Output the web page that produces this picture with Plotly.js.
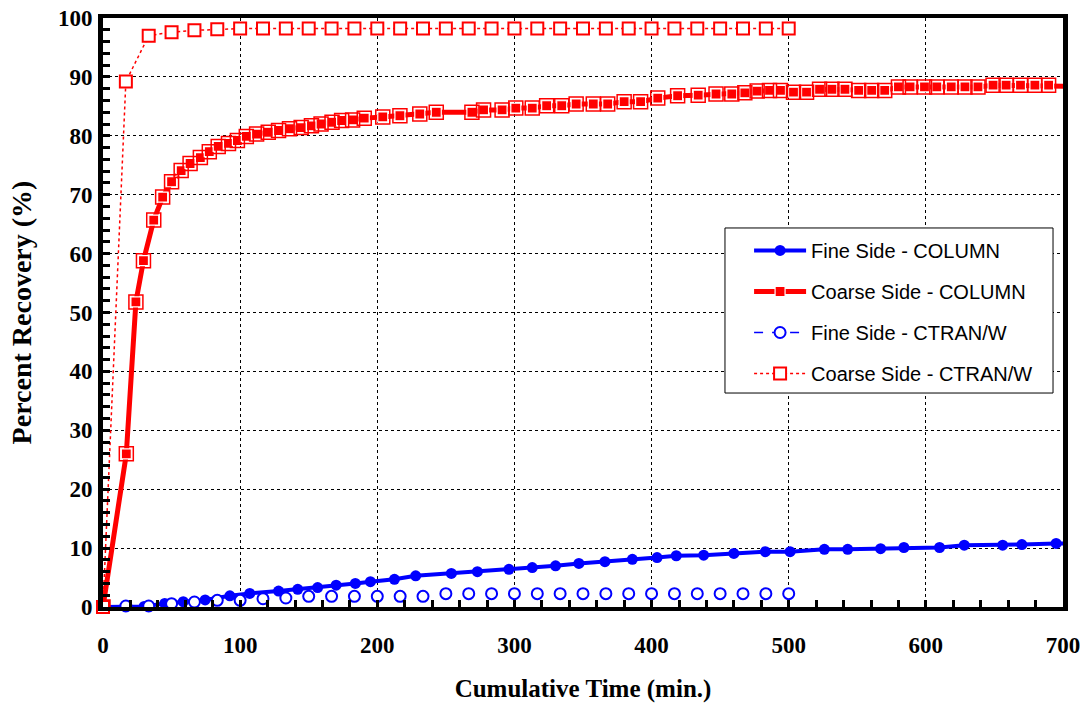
<!DOCTYPE html>
<html>
<head>
<meta charset="utf-8">
<script src="https://cdn.plot.ly/plotly-3.0.1.min.js"></script>
<style>html,body{margin:0;padding:0;background:#fff;}#chart{width:1085px;height:706px;}</style>
</head>
<body>
<div id="chart"></div>
<script>
// ---- data ----
const fineColumnX = [0, 30, 45, 58.5, 74.5, 92.5, 107, 128, 142, 156.5, 170, 184, 195, 212.5, 228, 254, 273, 296, 313, 330, 347, 366, 386, 404, 418, 438, 460, 483, 501, 526, 543, 567, 584, 610, 628, 656, 670, 695, 710];
const fineColumnY = [0, 0.1, 0.6, 0.9, 1.2, 1.9, 2.3, 2.7, 3.0, 3.3, 3.7, 4.0, 4.3, 4.7, 5.3, 5.7, 6.0, 6.4, 6.7, 7.0, 7.4, 7.7, 8.1, 8.4, 8.7, 8.8, 9.1, 9.4, 9.4, 9.8, 9.8, 9.9, 10.1, 10.1, 10.5, 10.5, 10.6, 10.8, 10.8];

const coarseColumnX = [0, 17, 24, 29.5, 37, 43.5, 50, 57, 63.5, 71, 77.5, 84, 91.5, 98, 104.5, 112, 120.5, 128, 136, 144.5, 152, 159, 167, 174, 182, 190.5, 204, 216.5, 231, 243, 269, 277.5, 291, 301, 313, 323.5, 334.5, 345, 357.5, 368, 380, 392, 404.5, 419, 434, 447, 458.5, 468, 477, 486, 494, 503.5, 513, 522.5, 531.5, 541, 551, 560.5, 570, 580, 588.5, 599, 608, 618.5, 628.5, 638, 649, 658.5, 669, 679.5, 689.5, 710];
const coarseColumnY = [0, 26, 51.8, 58.8, 65.7, 69.6, 72.2, 74.1, 75.3, 76.3, 77.3, 78.2, 78.7, 79.2, 79.9, 80.3, 80.6, 80.9, 81.2, 81.4, 81.7, 82.0, 82.3, 82.6, 82.7, 83.0, 83.2, 83.4, 83.7, 84.0, 84.0, 84.4, 84.4, 84.7, 84.7, 85.1, 85.1, 85.4, 85.4, 85.4, 85.8, 85.8, 86.4, 86.8, 86.9, 87.1, 87.1, 87.3, 87.6, 87.7, 87.7, 87.4, 87.4, 87.9, 87.9, 87.9, 87.7, 87.7, 87.7, 88.3, 88.3, 88.3, 88.3, 88.3, 88.3, 88.3, 88.6, 88.6, 88.6, 88.6, 88.6, 88.4];

const ctranX = [0, 16.67, 33.33, 50, 66.67, 83.33, 100, 116.67, 133.33, 150, 166.67, 183.33, 200, 216.67, 233.33, 250, 266.67, 283.33, 300, 316.67, 333.33, 350, 366.67, 383.33, 400, 416.67, 433.33, 450, 466.67, 483.33, 500];
const fineCtranY = [0, 0.17, 0.17, 0.57, 0.85, 1.13, 1.13, 1.41, 1.53, 1.81, 1.81, 1.81, 1.81, 1.81, 1.81, 2.26, 2.26, 2.26, 2.26, 2.26, 2.26, 2.26, 2.26, 2.26, 2.26, 2.26, 2.26, 2.26, 2.26, 2.26, 2.26];
const coarseCtranY = [0, 89.2, 97.0, 97.6, 97.9, 98.1, 98.2, 98.2, 98.2, 98.2, 98.2, 98.2, 98.2, 98.2, 98.2, 98.2, 98.2, 98.2, 98.2, 98.2, 98.2, 98.2, 98.2, 98.2, 98.2, 98.2, 98.2, 98.2, 98.2, 98.2, 98.2];

const seriesNames = ["Fine Side - COLUMN", "Coarse Side - COLUMN", "Fine Side - CTRAN/W", "Coarse Side - CTRAN/W"];
const xTicks = [0, 100, 200, 300, 400, 500, 600, 700];
const yTicks = [0, 10, 20, 30, 40, 50, 60, 70, 80, 90, 100];

const RED = "#FF0000", BLUE = "#0000FF";

const traces = [
  {x: fineColumnX, y: fineColumnY, name: seriesNames[0], legendgroup: "g1",
   mode: "lines+markers", line: {color: BLUE, width: 4},
   marker: {symbol: "circle", size: 11, color: BLUE}, cliponaxis: true},
  {x: coarseColumnX, y: coarseColumnY, name: seriesNames[1], legendgroup: "g2",
   mode: "lines+markers", line: {color: RED, width: 5},
   marker: {symbol: "square", size: 10, color: RED, line: {color: "#FFFFFF", width: 1.2}}, cliponaxis: true},
  {x: coarseColumnX, y: coarseColumnY, name: seriesNames[1], legendgroup: "g2", showlegend: false,
   mode: "markers", marker: {symbol: "square-open", size: 14, color: RED, line: {color: RED, width: 1.5}}, cliponaxis: true},
  {x: ctranX, y: fineCtranY, name: seriesNames[2], legendgroup: "g3", showlegend: false,
   mode: "markers", marker: {symbol: "circle", size: 11, color: "#FFFFFF", line: {color: BLUE, width: 2}}, cliponaxis: false},
  {x: [null], y: [null], name: seriesNames[2], legendgroup: "g3",
   mode: "lines+markers", line: {color: BLUE, width: 1.5, dash: "dash"},
   marker: {symbol: "circle", size: 11, color: "#FFFFFF", line: {color: BLUE, width: 2}}},
  {x: ctranX, y: coarseCtranY, name: seriesNames[3], legendgroup: "g4",
   mode: "lines+markers", line: {color: RED, width: 1.5, dash: "dot"},
   marker: {symbol: "square", size: 12, color: "#FFFFFF", line: {color: RED, width: 2}}, cliponaxis: false}
];

const tickFont = {family: "Liberation Serif, Times New Roman, serif", size: 23, color: "#000", weight: "bold"};
const xTitleFont = {family: "Liberation Serif, Times New Roman, serif", size: 25, color: "#000", weight: "bold"};
const yTitleFont = {family: "Liberation Serif, Times New Roman, serif", size: 28, color: "#000", weight: "bold"};

const layout = {
  width: 1085, height: 706,
  margin: {l: 103, r: 22, t: 18, b: 99},
  paper_bgcolor: "#FFFFFF", plot_bgcolor: "#FFFFFF",
  showlegend: true,
  legend: {
    x: 0.673, y: 0.6384, xanchor: "left", yanchor: "top",
    bgcolor: "rgba(0,0,0,0)", borderwidth: 0,
    font: {family: "Liberation Sans, Arial, sans-serif", size: 20, color: "#000"},
    traceorder: "grouped", tracegroupgap: 12, itemwidth: 52, itemsizing: "trace"
  },
  shapes: [
    {type: "rect", xref: "paper", yref: "paper", x0: 0.6479, x1: 0.9896, y0: 0.3633, y1: 0.6435,
     line: {color: "#000", width: 1}, fillcolor: "#FFFFFF", layer: "above"}
  ],
  xaxis: {
    range: [0, 700], tickvals: xTicks, ticktext: xTicks.map(String),
    showline: true, linecolor: "#000", linewidth: 4, mirror: true,
    showgrid: true, gridcolor: "#000", gridwidth: 1, griddash: "dot",
    zeroline: false, ticks: "inside", ticklen: 7, tickwidth: 3, tickcolor: "#000",
    minor: {dtick: 20, ticks: "inside", ticklen: 7, tickwidth: 3, tickcolor: "#000", showgrid: false},
    tickfont: tickFont, ticklabelstandoff: 14,
    title: {text: "Cumulative Time (min.)", font: xTitleFont, standoff: 24}
  },
  yaxis: {
    range: [0, 100], tickvals: yTicks, ticktext: yTicks.map(String),
    showline: true, linecolor: "#000", linewidth: 5, mirror: true,
    showgrid: true, gridcolor: "#000", gridwidth: 1, griddash: "dot",
    zeroline: false, ticks: "inside", ticklen: 7, tickwidth: 3, tickcolor: "#000",
    minor: {dtick: 2, ticks: "inside", ticklen: 7, tickwidth: 3, tickcolor: "#000", showgrid: false},
    tickfont: tickFont, ticklabelstandoff: 1,
    title: {text: "Percent Recovery (%)", font: yTitleFont, standoff: 20}
  }
};

Plotly.newPlot("chart", traces, layout, {displayModeBar: false, staticPlot: true});
</script>
</body>
</html>
